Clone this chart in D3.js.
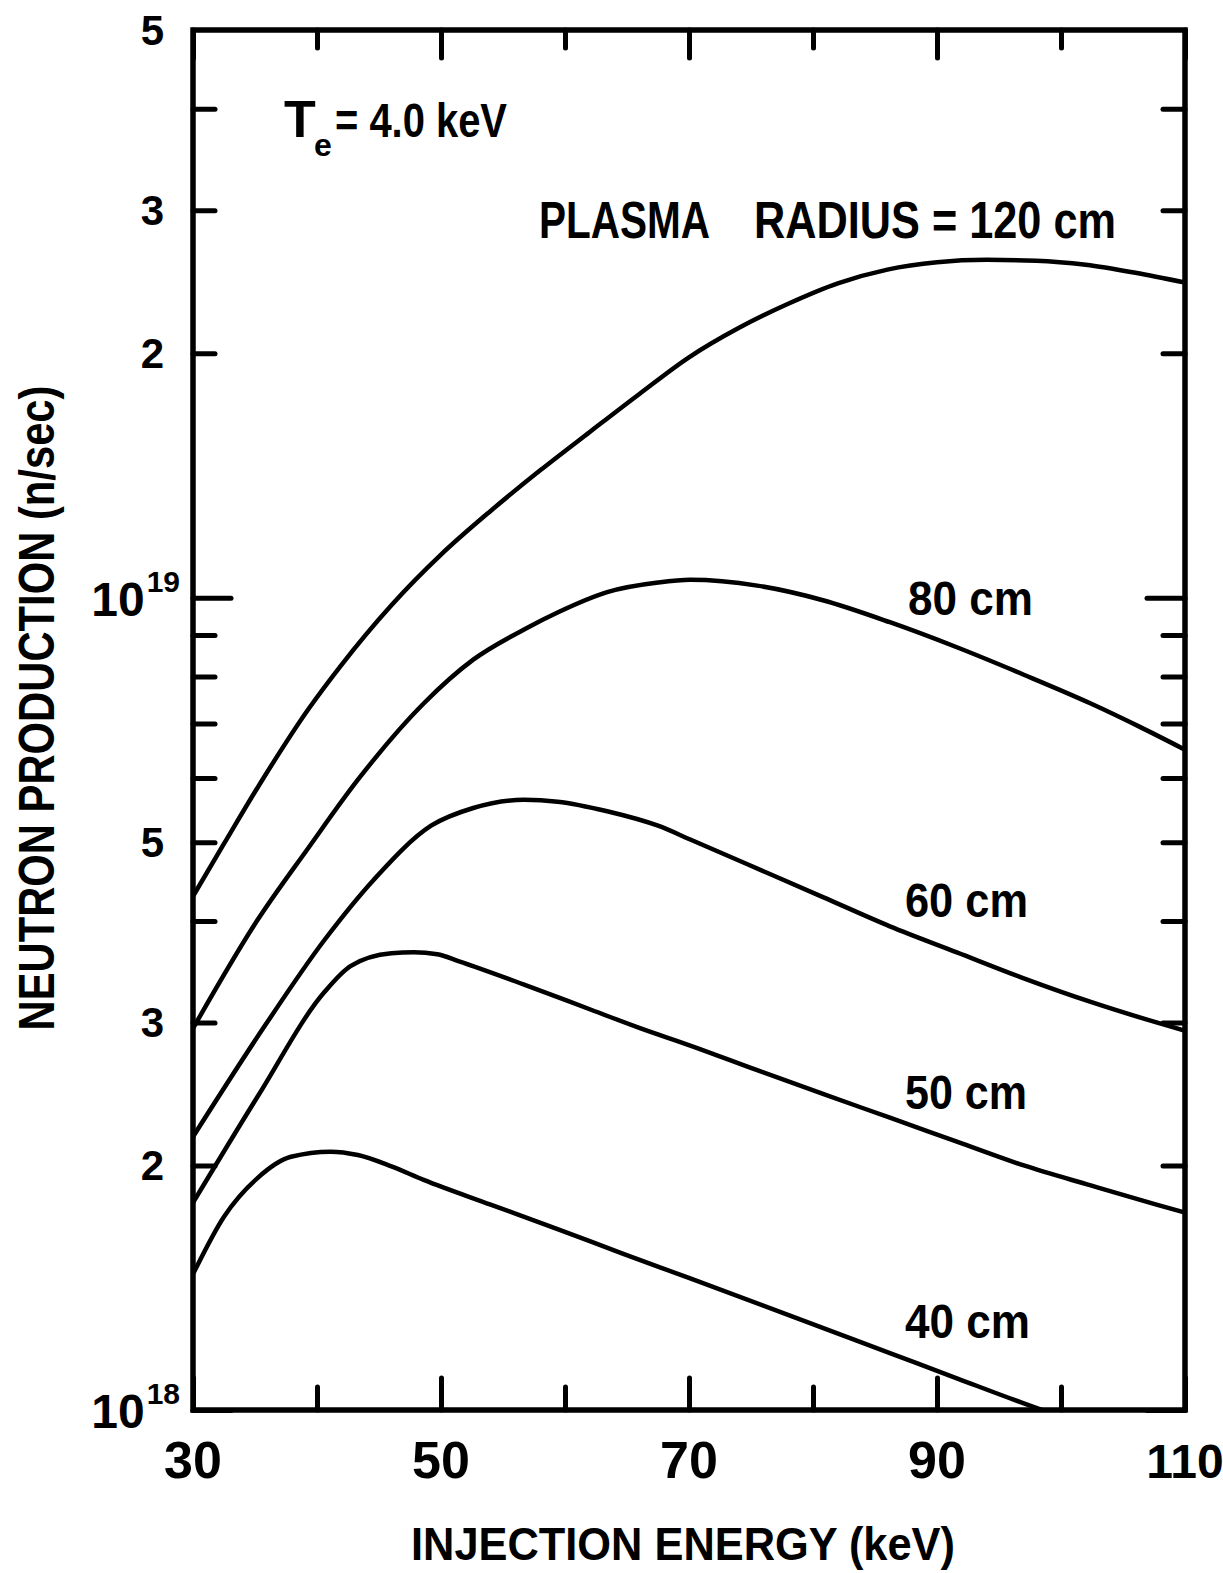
<!DOCTYPE html>
<html>
<head>
<meta charset="utf-8">
<script src="https://cdn.jsdelivr.net/npm/d3@7"></script>
<style>
  html, body { margin: 0; padding: 0; background: #fff; }
  svg { display: block; }
  text { font-family: "Liberation Sans", Arial, sans-serif; font-weight: bold; fill: #000; }
</style>
</head>
<body>
<div id="chart"></div>
<script>
// neutron production (units of 1e18 n/sec) vs injection energy (keV), Te = 4.0 keV
const radii = ["120 cm", "80 cm", "60 cm", "50 cm", "40 cm"];

const r120 = [[30, 4.29], [32.5, 4.98], [35.6, 5.97], [39.3, 7.29], [41.9, 8.24], [46, 9.79], [50, 11.30],
  [54, 12.79], [58, 14.35], [62, 16.00], [66, 17.82], [70, 19.77], [74, 21.48], [78, 23.01], [82, 24.38],
  [86, 25.35], [90, 25.88], [94, 26.06], [98, 26.00], [102, 25.70], [106, 25.12], [110, 24.43]];
const r80 = [[30, 2.95], [35.2, 4.01], [39.3, 4.92], [43.3, 5.97], [48.6, 7.41], [52.6, 8.39], [56.7, 9.14],
  [59.4, 9.59], [63.4, 10.16], [67.5, 10.44], [70.1, 10.52], [75.5, 10.35], [80.8, 9.93], [86.2, 9.33],
  [91.6, 8.69], [97, 8.04], [102.4, 7.41], [106.4, 6.93], [110, 6.50]];
const r60 = [[30, 2.17], [35.2, 2.88], [40.6, 3.79], [44.6, 4.50], [49.2, 5.24], [52.6, 5.51], [56.7, 5.64],
  [59.4, 5.61], [63.4, 5.46], [67.5, 5.24], [70.1, 5.04], [76.8, 4.55], [80.8, 4.28], [86.2, 3.94],
  [91.6, 3.66], [97, 3.40], [102.4, 3.18], [107.7, 3.00], [110, 2.93]];
const r50 = [[30, 1.80], [35.2, 2.43], [40.6, 3.27], [42.7, 3.52], [46, 3.65], [47.8, 3.66], [49.7, 3.64],
  [51.4, 3.57], [56.7, 3.34], [62.1, 3.11], [66.1, 2.95], [70.1, 2.81], [75.5, 2.62], [80.8, 2.45],
  [86.2, 2.29], [91.6, 2.14], [97, 2.00], [102.4, 1.89], [107.7, 1.79], [110, 1.75]];
const r40 = [[30, 1.47], [32.5, 1.73], [35.2, 1.93], [37.9, 2.05], [41.1, 2.08], [43.3, 2.06], [46, 1.995],
  [48.6, 1.92], [54, 1.79], [59.4, 1.67], [64.7, 1.557], [70.1, 1.452], [78.2, 1.306], [86.2, 1.175],
  [91.6, 1.094], [97, 1.019], [98.5, 1.0]];

const xTicks = [30, 40, 50, 60, 70, 80, 90, 100, 110];
const xLabelTicks = [30, 50, 70, 90, 110];
const xLabels = ["30", "50", "70", "90", "110"];
const yMinorTicks = [2, 3, 4, 5, 6, 7, 8, 9, 20, 30, 40];
const yMajorTicks = [1, 10];
const yLabelVals = [1, 2, 3, 5, 10, 20, 30, 50];
const yLabelText = ["10", "2", "3", "5", "10", "2", "3", "5"];
const yLabelExp = ["18", "", "", "", "19", "", "", ""];

const W = 1223, H = 1573;
const plotL = 193, plotR = 1185, plotT = 30, plotB = 1410;

const x = d3.scaleLinear().domain([30, 110]).range([plotL, plotR]);
const y = d3.scaleLog().domain([1, 50]).range([plotB, plotT]);

const svg = d3.select("#chart").append("svg")
  .attr("width", W)
  .attr("height", H);

svg.append("clipPath").attr("id", "plot")
  .append("rect")
  .attr("x", plotL).attr("y", plotT)
  .attr("width", plotR - plotL).attr("height", plotB - plotT);

const series = [r120, r80, r60, r50, r40].map((v, i) => ({ name: radii[i], values: v }));

const line = d3.line()
  .x(d => x(d[0]))
  .y(d => y(d[1]))
  .curve(d3.curveMonotoneX);

svg.append("g")
  .attr("clip-path", "url(#plot)")
  .selectAll("path")
  .data(series)
  .join("path")
  .attr("d", d => line(d.values))
  .attr("fill", "none")
  .attr("stroke", "#000")
  .attr("stroke-width", 4.5)
  .attr("stroke-linejoin", "round");

// inward ticks on all four sides
function ticks(axisFn, scale, vals, size, transform) {
  svg.append("g")
    .attr("transform", transform)
    .call(axisFn(scale).tickValues(vals).tickSize(-size).tickFormat(""))
    .call(g => g.select(".domain").remove())
    .call(g => g.selectAll("line").attr("stroke-width", 5).attr("stroke-linecap", "round"));
}
const xShort = xTicks.filter(v => !xLabelTicks.includes(v));
ticks(d3.axisLeft, y, yMinorTicks, 22, `translate(${plotL},0)`);
ticks(d3.axisLeft, y, yMajorTicks, 38, `translate(${plotL},0)`);
ticks(d3.axisRight, y, yMinorTicks, 22, `translate(${plotR},0)`);
ticks(d3.axisRight, y, yMajorTicks, 38, `translate(${plotR},0)`);
ticks(d3.axisBottom, x, xShort, 23, `translate(0,${plotB})`);
ticks(d3.axisBottom, x, xLabelTicks, 32, `translate(0,${plotB})`);
ticks(d3.axisTop, x, xShort, 18, `translate(0,${plotT})`);
ticks(d3.axisTop, x, xLabelTicks, 28, `translate(0,${plotT})`);

svg.append("rect")
  .attr("x", plotL).attr("y", plotT)
  .attr("width", plotR - plotL).attr("height", plotB - plotT)
  .attr("fill", "none")
  .attr("stroke", "#000")
  .attr("stroke-width", 5.5);

// x tick labels
svg.append("g")
  .selectAll("text")
  .data(xLabelTicks)
  .join("text")
  .attr("x", d => x(d))
  .attr("y", 1478)
  .attr("text-anchor", "middle")
  .attr("font-size", d => d === 110 ? 48 : 52)
  .text((d, i) => xLabels[i]);

// y tick labels (powers of ten as one text with a raised tspan)
yLabelVals.forEach((v, i) => {
  const ty = y(v);
  if (yLabelExp[i]) {
    const t = svg.append("text")
      .attr("x", 180).attr("y", ty + 18)
      .attr("text-anchor", "end")
      .attr("font-size", 48);
    t.append("tspan").text(yLabelText[i]);
    t.append("tspan")
      .attr("dx", 2).attr("dy", -24)
      .attr("font-size", 30)
      .text(yLabelExp[i]);
  } else {
    svg.append("text")
      .attr("x", 164).attr("y", ty + 15)
      .attr("text-anchor", "end")
      .attr("font-size", 42)
      .text(yLabelText[i]);
  }
});

// axis titles
svg.append("text")
  .attr("x", 411).attr("y", 1560)
  .attr("font-size", 47)
  .attr("textLength", 544).attr("lengthAdjust", "spacingAndGlyphs")
  .text("INJECTION ENERGY (keV)");

svg.append("text")
  .attr("transform", "translate(54,708) rotate(-90)")
  .attr("text-anchor", "middle")
  .attr("font-size", 50)
  .attr("textLength", 645).attr("lengthAdjust", "spacingAndGlyphs")
  .text("NEUTRON PRODUCTION (n/sec)");

// annotations
function label(txt, lx, ly, size, len) {
  const t = svg.append("text").attr("x", lx).attr("y", ly).attr("font-size", size).text(txt);
  if (len) t.attr("textLength", len).attr("lengthAdjust", "spacingAndGlyphs");
  return t;
}

const te = svg.append("text").attr("x", 284).attr("y", 137).attr("font-size", 52);
te.append("tspan").text("T");
te.append("tspan").attr("x", 314).attr("y", 156).attr("font-size", 32).text("e");
te.append("tspan").attr("x", 335).attr("y", 137).attr("font-size", 48)
  .attr("textLength", 172).attr("lengthAdjust", "spacingAndGlyphs")
  .text("= 4.0 keV");

label("PLASMA", 539, 238, 52, 171);
label("RADIUS = 120 cm", 754, 238, 52, 362);
label("80 cm", 908, 615, 48, 125);
label("60 cm", 905, 917, 48, 123);
label("50 cm", 905, 1109, 48, 122);
label("40 cm", 905, 1338, 48, 125);
</script>
</body>
</html>
